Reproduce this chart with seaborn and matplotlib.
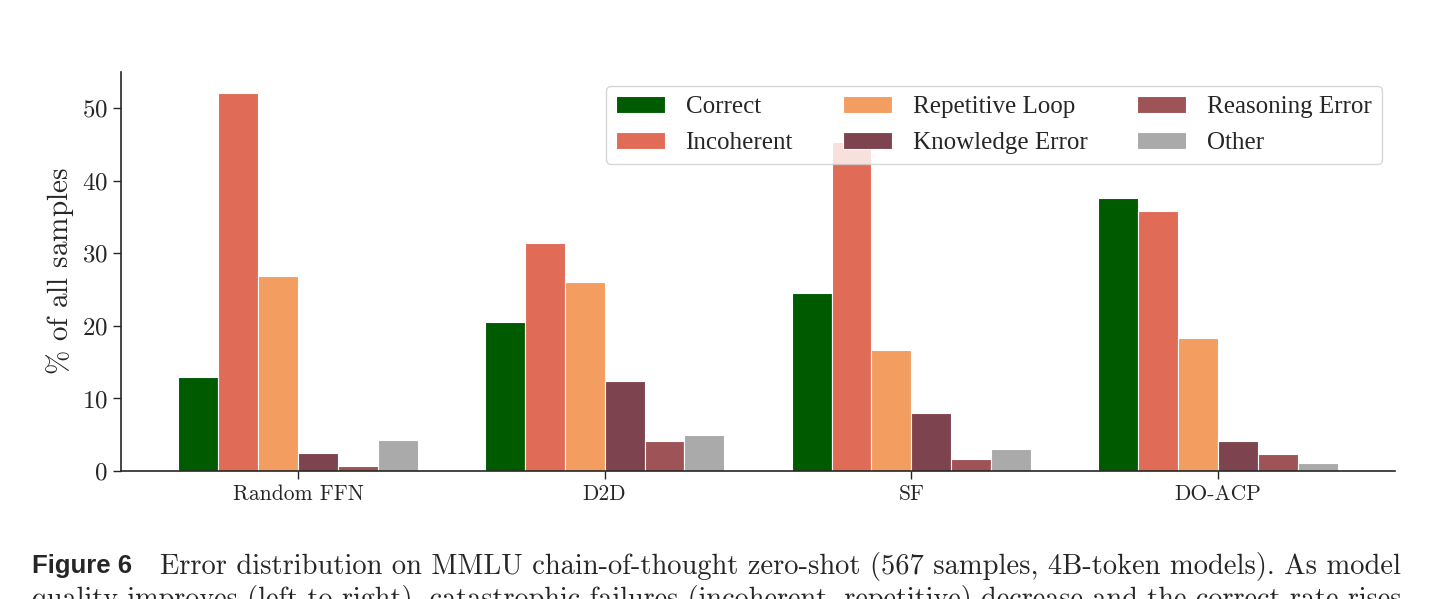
import pandas as pd
import matplotlib.pyplot as plt
import seaborn as sns

# Error distribution per model (percent of 567 samples)
models = ["Random FFN", "D2D", "SF", "DO-ACP"]
categories = ["Correct", "Incoherent", "Repetitive Loop", "Knowledge Error", "Reasoning Error", "Other"]
correct = [13.0, 20.6, 24.6, 37.6]
incoherent = [52.1, 31.4, 45.4, 35.9]
repetitive = [26.9, 26.0, 16.7, 18.4]
knowledge = [2.5, 12.4, 8.0, 4.1]
reasoning = [0.7, 4.1, 1.7, 2.3]
other = [4.3, 5.0, 3.0, 1.1]
colors = ["#005a00", "#e06b56", "#f39d61", "#7d434e", "#9e5356", "#aaaaaa"]

series = [correct, incoherent, repetitive, knowledge, reasoning, other]
rows = []
for cat, vals in zip(categories, series):
    for m, v in zip(models, vals):
        rows.append({"model": m, "category": cat, "pct": v})
df = pd.DataFrame(rows)

sns.set_style("ticks")
plt.rcParams["font.family"] = "serif"
plt.rcParams["font.serif"] = ["cmr10", "DejaVu Serif"]
plt.rcParams["mathtext.fontset"] = "cm"
plt.rcParams["axes.formatter.use_mathtext"] = True

fig = plt.figure(figsize=(14.41, 5.99), dpi=100)
ax = fig.add_axes([0.084, 0.2137, 0.884, 0.666])

sns.barplot(data=df, x="model", y="pct", hue="category", hue_order=categories,
            palette=dict(zip(categories, colors)), width=0.78, saturation=1,
            edgecolor="white", linewidth=0.8, ax=ax)

ax.set_xlim(-0.577, 3.577)
ax.set_ylim(0, 55)
ax.set_yticks([0, 10, 20, 30, 40, 50])
ax.set_xlabel("")
ax.set_ylabel(r"$\%$ of all samples", fontsize=21)
ax.tick_params(axis="y", labelsize=18, length=6, width=1)
ax.tick_params(axis="x", labelsize=15.5, length=6, width=1)
sns.despine(ax=ax)
for s in ["left", "bottom"]:
    ax.spines[s].set_linewidth(1.2)

leg = ax.legend(loc="upper right", ncol=3, frameon=True,
                prop={"family": "Liberation Serif", "size": 18},
                handlelength=1.95, handleheight=0.68, handletextpad=0.84,
                columnspacing=2.0, borderpad=0.4, labelspacing=0.55,
                borderaxespad=0, bbox_to_anchor=(0.9898, 0.965))
leg.get_frame().set_edgecolor("#cccccc")
leg.get_frame().set_linewidth(1.0)

fig.text(0.022, 0.055, "Figure 6", fontsize=18.5, fontweight="bold",
         family="Liberation Sans", va="center")
fig.text(0.111, 0.055,
         "Error distribution on MMLU chain-of-thought zero-shot (567 samples, 4B-token models). As model",
         fontsize=20.5, va="center")
fig.text(0.022, 0.0,
         "quality improves (left to right), catastrophic failures (incoherent, repetitive) decrease and the correct rate rises.",
         fontsize=20.3, va="center")

fig.savefig("out.png", dpi=100)
